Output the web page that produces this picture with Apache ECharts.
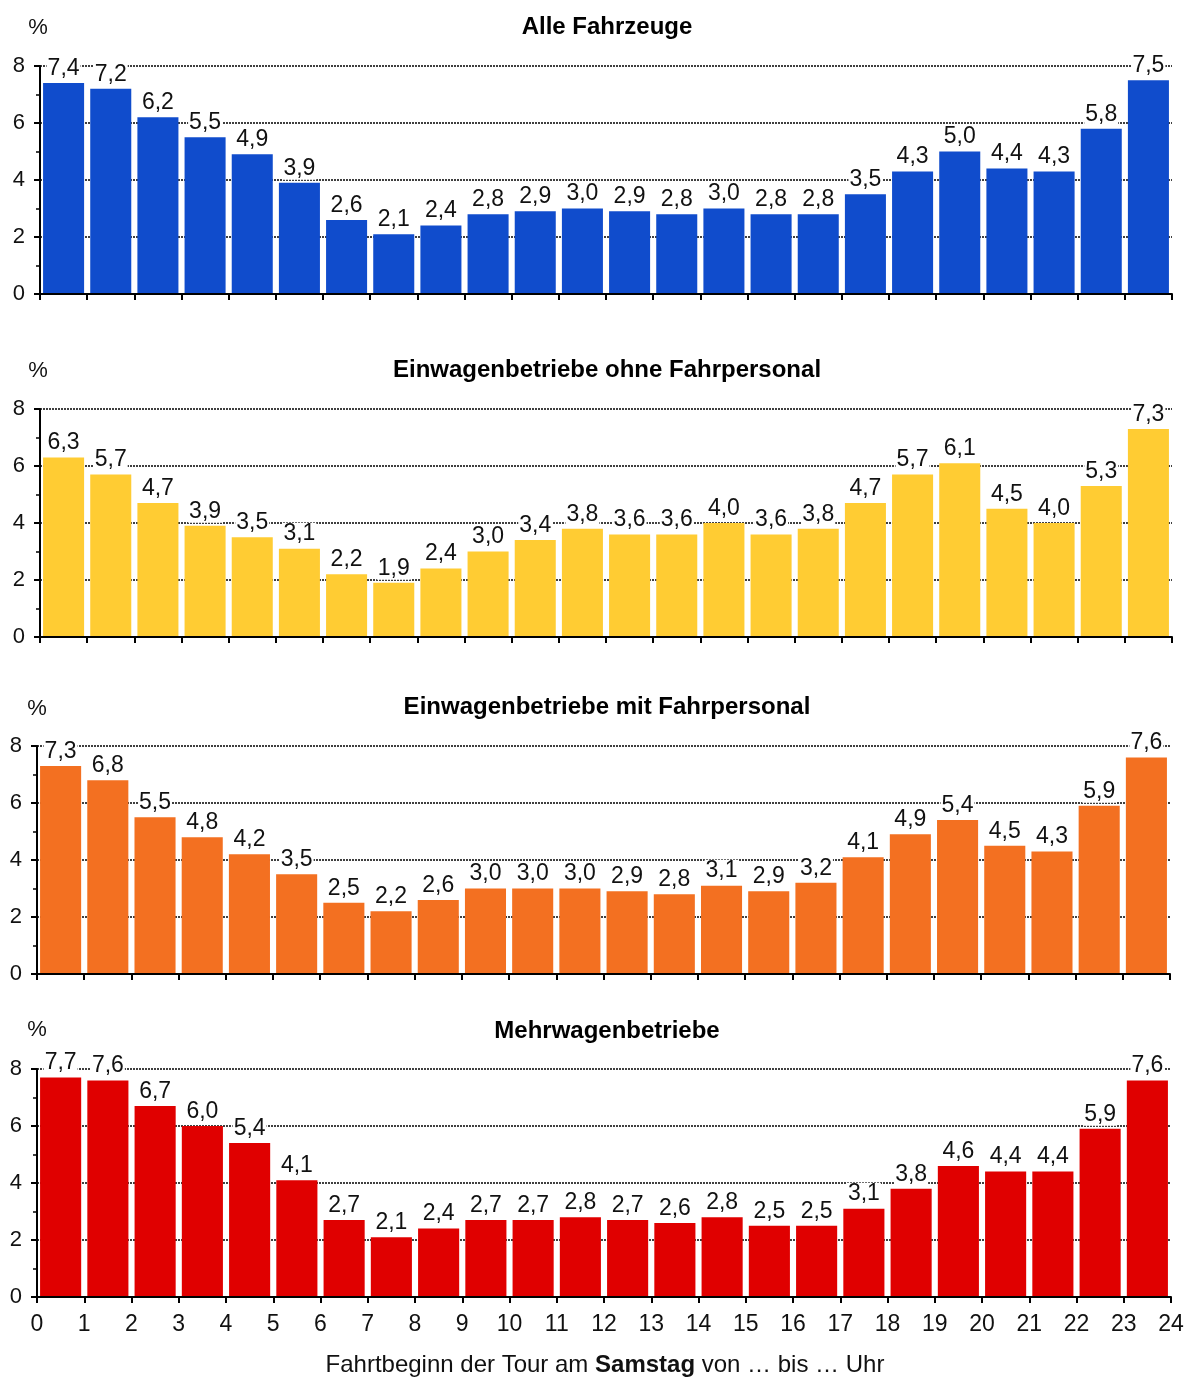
<!DOCTYPE html>
<html><head><meta charset="utf-8">
<script src="https://cdn.jsdelivr.net/npm/echarts@6/dist/echarts.min.js"></script>
<style>html,body{margin:0;padding:0;background:#fff}#c{width:1189px;height:1378px}</style>
</head><body><div id="c"></div>
<script>
const hours = ['0','1','2','3','4','5','6','7','8','9','10','11','12','13','14','15','16','17','18','19','20','21','22','23'];
const tickLabels = ['0','1','2','3','4','5','6','7','8','9','10','11','12','13','14','15','16','17','18','19','20','21','22','23','24'];
const titles = ['Alle Fahrzeuge','Einwagenbetriebe ohne Fahrpersonal','Einwagenbetriebe mit Fahrpersonal','Mehrwagenbetriebe'];
const alleFahrzeuge = [7.4,7.2,6.2,5.5,4.9,3.9,2.6,2.1,2.4,2.8,2.9,3.0,2.9,2.8,3.0,2.8,2.8,3.5,4.3,5.0,4.4,4.3,5.8,7.5];
const ohneFahrpersonal = [6.3,5.7,4.7,3.9,3.5,3.1,2.2,1.9,2.4,3.0,3.4,3.8,3.6,3.6,4.0,3.6,3.8,4.7,5.7,6.1,4.5,4.0,5.3,7.3];
const mitFahrpersonal = [7.3,6.8,5.5,4.8,4.2,3.5,2.5,2.2,2.6,3.0,3.0,3.0,2.9,2.8,3.1,2.9,3.2,4.1,4.9,5.4,4.5,4.3,5.9,7.6];
const mehrwagen = [7.7,7.6,6.7,6.0,5.4,4.1,2.7,2.1,2.4,2.7,2.7,2.8,2.7,2.6,2.8,2.5,2.5,3.1,3.8,4.6,4.4,4.4,5.9,7.6];

const seriesData = [alleFahrzeuge, ohneFahrpersonal, mitFahrpersonal, mehrwagen];
const colors = ['#104ccc','#ffcc33','#f37021','#e00000'];
const FONT = '"Liberation Sans", Arial, sans-serif';
const panels = [
  {top:66, left:40, right:17, titleY:27, pctY:28, pctX:38},
  {top:409, left:40, right:17, titleY:370, pctY:371, pctX:38},
  {top:746, left:37, right:19, titleY:707, pctY:709, pctX:37},
  {top:1069, left:37, right:18, titleY:1031, pctY:1030, pctX:37}
];
const H = 228;

const grid=[], xAxis=[], yAxis=[], series=[], graphic=[];
panels.forEach((p,i)=>{
  grid.push({left:p.left, right:p.right, top:p.top, height:H});
  xAxis.push({type:'category', gridIndex:i, data:hours, boundaryGap:true,
    axisLine:{lineStyle:{color:'#000',width:2}},
    axisTick:{show:true, interval:0, length:6, lineStyle:{color:'#000',width:2}},
    axisLabel:{show:false}, splitLine:{show:false}, z:5});
  xAxis.push({type:'value', gridIndex:i, min:0, max:24, interval:1, position:'bottom',
    axisLine:{show:false}, axisTick:{show:false}, splitLine:{show:false},
    axisLabel:{show:i===3, margin:16, color:'#111', fontSize:23, fontFamily:FONT,
      formatter:(v)=>tickLabels[v]}});
  yAxis.push({type:'value', gridIndex:i, min:0, max:8, interval:2,
    axisLine:{show:true, lineStyle:{color:'#000',width:2}},
    axisTick:{show:true, length:6, lineStyle:{color:'#000',width:2}},
    minorTick:{show:true, splitNumber:2, length:4, lineStyle:{color:'#000',width:1.5}},
    splitLine:{show:true, lineStyle:{color:'#000', width:1.5, type:[2,1]}},
    axisLabel:{margin:15, color:'#111', fontSize:22, fontFamily:FONT}});
  series.push({type:'bar', xAxisIndex:i*2, yAxisIndex:i, data:seriesData[i],
    barCategoryGap:'13%', itemStyle:{color:colors[i]},
    label:{show:true, position:'top', distance:3, color:'#111', fontSize:23, fontFamily:FONT,
      backgroundColor:'#fff', padding:[0,1,0,1],
      formatter:(d)=>d.value.toFixed(1).replace('.',',')}});
  graphic.push({type:'text', x:607, y:p.titleY, style:{text:titles[i], font:'bold 24px '+FONT, fill:'#000', textAlign:'center', textVerticalAlign:'middle'}});
  graphic.push({type:'text', x:p.pctX, y:p.pctY, style:{text:'%', font:'22px '+FONT, fill:'#111', textAlign:'center', textVerticalAlign:'middle'}});
});
graphic.push({type:'text', x:605, y:1365, style:{
  text:'{n|Fahrtbeginn der Tour am }{b|Samstag}{n| von … bis … Uhr}',
  rich:{n:{font:'24px '+FONT, fill:'#111'}, b:{font:'bold 24px '+FONT, fill:'#111'}},
  textAlign:'center', textVerticalAlign:'middle'}});

const chart = echarts.init(document.getElementById('c'), null, {renderer:'canvas'});
chart.setOption({animation:false, backgroundColor:'#fff', grid, xAxis, yAxis, series, graphic});
</script></body></html>
